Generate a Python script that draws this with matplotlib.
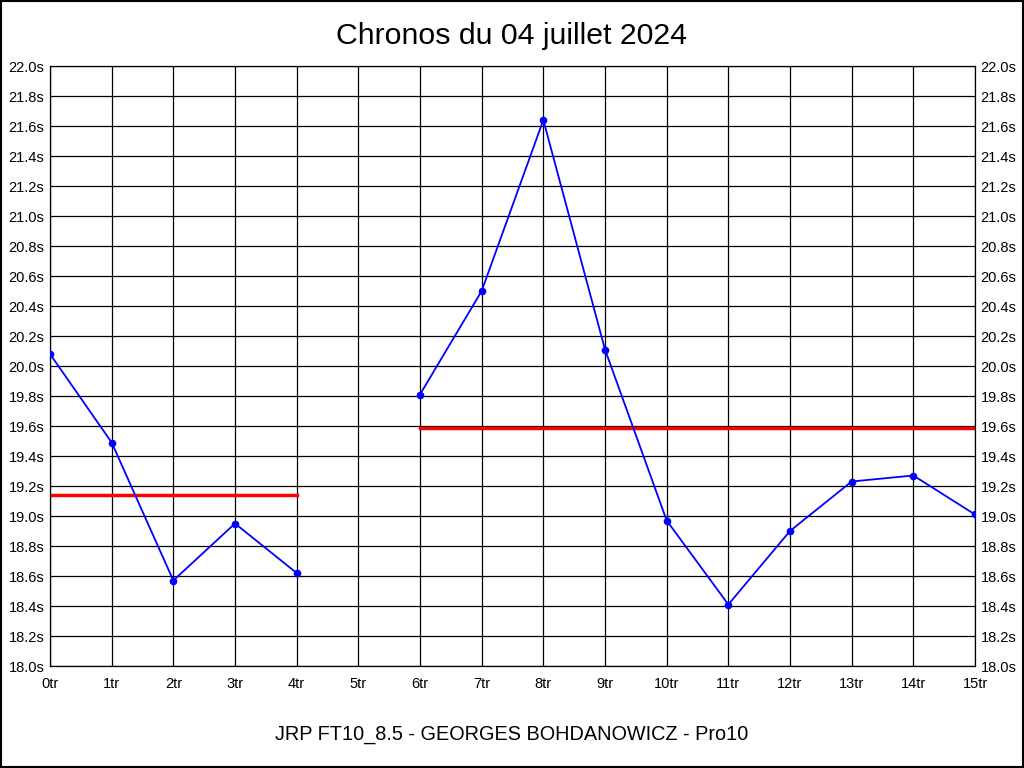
import numpy as np
import matplotlib
matplotlib.use('Agg')
import matplotlib.pyplot as plt

plt.rcParams['font.family'] = ['Liberation Sans', 'DejaVu Sans']

# lap index and lap times (s); lap 5 missing
laps = [0, 1, 2, 3, 4, 5, 6, 7, 8, 9, 10, 11, 12, 13, 14, 15]
times = [20.08, 19.49, 18.57, 18.95, 18.62, np.nan, 19.81, 20.50, 21.64,
         20.11, 18.97, 18.41, 18.90, 19.23, 19.27, 19.01]

# average segments: (start lap, end lap, mean time)
avg_starts = [0, 6]
avg_ends = [4, 15]
avg_values = [19.14, 19.585]

yticks = np.arange(18.0, 22.01, 0.2)

fig = plt.figure(figsize=(10.24, 7.68), dpi=100)
ax = fig.add_axes([50 / 1024, 102 / 768, 925 / 1024, 600 / 768])

ax.plot(laps, times, color='#0000ff', lw=1.3, marker='o', ms=4.5, zorder=3)
for s, e, v in zip(avg_starts, avg_ends, avg_values):
  ax.plot([s, e], [v, v], color='#ff0000', lw=2.5, zorder=2)

ax.set_xlim(0, 15)
ax.set_ylim(18.0, 22.0)
ax.set_xticks(laps)
ax.set_xticklabels(['%dtr' % i for i in laps])
ax.set_yticks(yticks)
ax.set_yticklabels(['%.1fs' % v for v in yticks])
ax.tick_params(axis='both', labelsize=10.5, length=0, pad=4, colors='black')
ax.tick_params(axis='x', pad=8)
ax.tick_params(axis='y', labelleft=True, labelright=True, right=False)
ax.grid(True, color='black', lw=0.9)
ax.set_axisbelow(True)
for sp in ax.spines.values():
  sp.set_linewidth(0.9)

fig.text(0.5, 1 - 36 / 768, 'Chronos du 04 juillet 2024', ha='center', va='center', fontsize=21.8)
fig.text(0.5, 1 - 735 / 768, 'JRP FT10_8.5 - GEORGES BOHDANOWICZ - Pro10', ha='center', va='center', fontsize=14.3)

# outer frame
fig.patches.append(plt.Rectangle((0.0005, 0.0007), 0.999, 0.9986, transform=fig.transFigure,
                                 fill=False, edgecolor='black', lw=1.5))

fig.savefig('out.png', dpi=100)
